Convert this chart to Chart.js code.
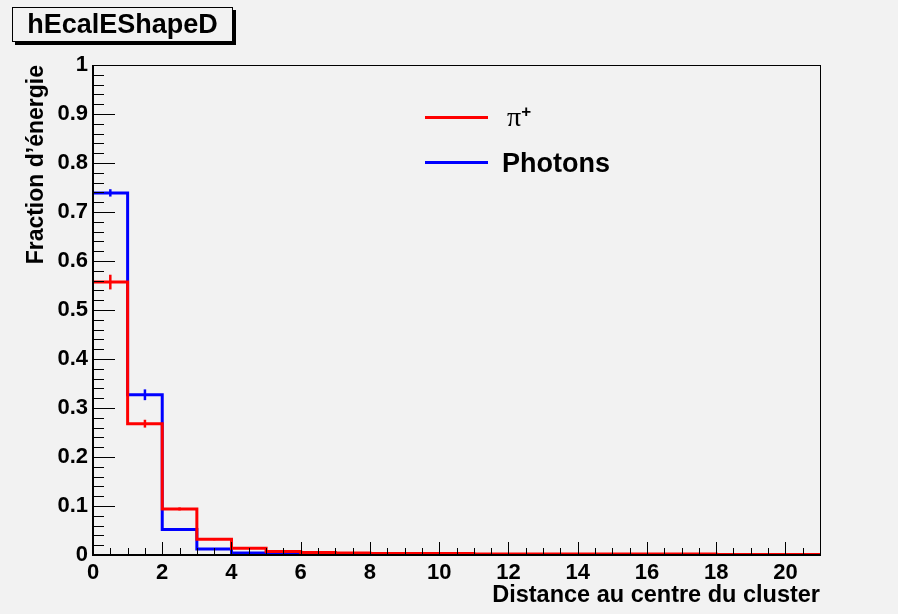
<!DOCTYPE html>
<html>
<head>
<meta charset="utf-8">
<script src="https://cdn.jsdelivr.net/npm/chart.js@4.4.0/dist/chart.umd.min.js"></script>
<style>
  body { margin: 0; background: #f2f2f2; }
  #wrap { position: relative; width: 898px; height: 614px; background: #f2f2f2; }
  #title {
    position: absolute; left: 12px; top: 7px; width: 219px; height: 33px;
    border: 1px solid #000; box-shadow: 3px 3px 0 #000; background: #f2f2f2;
    font: bold 27px "Liberation Sans", Arial, sans-serif; text-align: center; line-height: 33px;
  }
  .leg { position: absolute; left: 425px; width: 63px; height: 0; border-top: 3px solid; }
  .legtxt { position: absolute; font-family: "Liberation Sans", Arial, sans-serif; white-space: nowrap; }
</style>
</head>
<body>
<div id="wrap">
  <canvas id="myChart" width="898" height="614"></canvas>
  <div id="title">hEcalEShapeD</div>
  <div class="leg" style="top:116px;border-color:#ff0000"></div>
  <div class="legtxt" style="left:507px;top:101px;font:28px 'Liberation Serif', serif;">π<sup style="font:bold 17px 'Liberation Sans',sans-serif;vertical-align:9px;">+</sup></div>
  <div class="leg" style="top:161px;border-color:#0000ff"></div>
  <div class="legtxt" style="left:502px;top:148px;font:bold 27px 'Liberation Sans', Arial, sans-serif;">Photons</div>
</div>
<script>
// bins of width 1 from 0 to 21
var binEdges = [0,1,2,3,4,5,6,7,8,9,10,11,12,13,14,15,16,17,18,19,20];
var pionVals = [0.557, 0.268, 0.094, 0.032, 0.014, 0.007, 0.005, 0.004, 0.003, 0.003, 0.003, 0.002, 0.002, 0.002, 0.002, 0.002, 0.002, 0.002, 0.001, 0.001, 0.001];
var pionErrs = [0.015, 0.008, 0.003, 0.002, 0.001, 0.001, 0, 0, 0, 0, 0, 0, 0, 0, 0, 0, 0, 0, 0, 0, 0];
var photonVals = [0.739, 0.327, 0.052, 0.012, 0.004, 0.002, 0.002, 0.001, 0.001, 0.001, 0.001, 0.001, 0.001, 0.001, 0.001, 0.001, 0.001, 0.001, 0.0005, 0.0005, 0.0005];
var photonErrs = [0.0075, 0.011, 0.002, 0.001, 0.001, 0, 0, 0, 0, 0, 0, 0, 0, 0, 0, 0, 0, 0, 0, 0, 0];
var xMax = 21;

function histPoints(vals){
    var pts = [];
    for(var i=0;i<binEdges.length;i++){
        pts.push({x: binEdges[i], y: vals[i]});
    }
    pts.push({x: xMax, y: vals[vals.length-1]});
    return pts;
}

var font = "'Liberation Sans', Arial, sans-serif";

// frame, inner ticks and error bars
var rootStyle = {
    id: 'rootStyle',
    afterDatasetsDraw: function(chart){
        var ctx = chart.ctx, a = chart.chartArea;
        var xs = chart.scales.x, ys = chart.scales.y;
        ctx.save();
        // error bars
        var sets = [[photonVals, photonErrs, '#0000ff'], [pionVals, pionErrs, '#ff0000']];
        sets.forEach(function(s){
            ctx.strokeStyle = s[2];
            ctx.lineWidth = 2.5;
            for(var i=0;i<s[0].length;i++){
                if(!s[1][i]) continue;
                var px = xs.getPixelForValue(binEdges[i] + 0.5);
                ctx.beginPath();
                ctx.moveTo(px, ys.getPixelForValue(s[0][i] - s[1][i]));
                ctx.lineTo(px, ys.getPixelForValue(s[0][i] + s[1][i]));
                ctx.stroke();
            }
        });
        // ticks
        ctx.strokeStyle = '#000';
        ctx.lineWidth = 1;
        for(var k=0;k<=50;k++){
            var py = Math.round(ys.getPixelForValue(k*0.02)) + 0.5;
            var len = (k%5===0) ? 22 : 11;
            ctx.beginPath(); ctx.moveTo(a.left, py); ctx.lineTo(a.left+len, py); ctx.stroke();
        }
        for(var j=0;j<=42;j++){
            var px2 = Math.round(xs.getPixelForValue(j*0.5)) + 0.5;
            var l2 = (j%4===0) ? 13 : 7;
            ctx.beginPath(); ctx.moveTo(px2, a.bottom); ctx.lineTo(px2, a.bottom-l2); ctx.stroke();
        }
        // frame
        ctx.strokeRect(Math.round(a.left)+0.5, Math.round(a.top)+0.5, Math.round(a.right-a.left), Math.round(a.bottom-a.top));
        ctx.lineWidth = 2;
        ctx.beginPath();
        ctx.moveTo(a.left, a.top); ctx.lineTo(a.left, a.bottom); ctx.lineTo(a.right, a.bottom);
        ctx.stroke();
        ctx.restore();
    }
};

var ctx = document.getElementById("myChart");
var myChart = new Chart(ctx, {
    type: 'line',
    data: {
        datasets: [
            {
                label: 'π+',
                data: histPoints(pionVals),
                borderColor: '#ff0000',
                borderWidth: 3,
                stepped: 'before',
                pointRadius: 0,
                fill: false
            },
            {
                label: 'Photons',
                data: histPoints(photonVals),
                borderColor: '#0000ff',
                borderWidth: 3,
                stepped: 'before',
                pointRadius: 0,
                fill: false
            }
        ]
    },
    options: {
        responsive: false,
        animation: false,
        layout: { padding: { left: 0, top: 65, right: 78, bottom: 0 } },
        plugins: { legend: { display: false }, tooltip: { enabled: false } },
        scales: {
            x: {
                type: 'linear', min: 0, max: xMax,
                grid: { display: false, drawTicks: false }, border: { display: false },
                afterBuildTicks: function(s){ s.ticks = s.ticks.filter(function(t){ return t.value % 2 === 0; }); },
                afterFit: function(s){ s.height = 59; },
                ticks: { stepSize: 2, includeBounds: false, padding: 5, autoSkip: false, color: '#000', font: { family: font, size: 22, weight: 'bold' }, maxRotation: 0 },
                title: { display: true, text: 'Distance au centre du cluster', align: 'end', color: '#000',
                         padding: { top: 7 }, font: { family: font, size: 23.5, weight: 'bold' } }
            },
            y: {
                min: 0, max: 1,
                grid: { display: false, drawTicks: false }, border: { display: false },
                afterFit: function(s){ s.width = 93; },
                ticks: { stepSize: 0.1, padding: 5, color: '#000', font: { family: font, size: 22, weight: 'bold' },
                         callback: function(v){ return String(Number(v.toFixed(1))); } },
                title: { display: true, text: 'Fraction d’énergie', align: 'end', color: '#000',
                         padding: { top: 23 }, font: { family: font, size: 23, weight: 'bold' } }
            }
        }
    },
    plugins: [rootStyle]
});
</script>
</body>
</html>
